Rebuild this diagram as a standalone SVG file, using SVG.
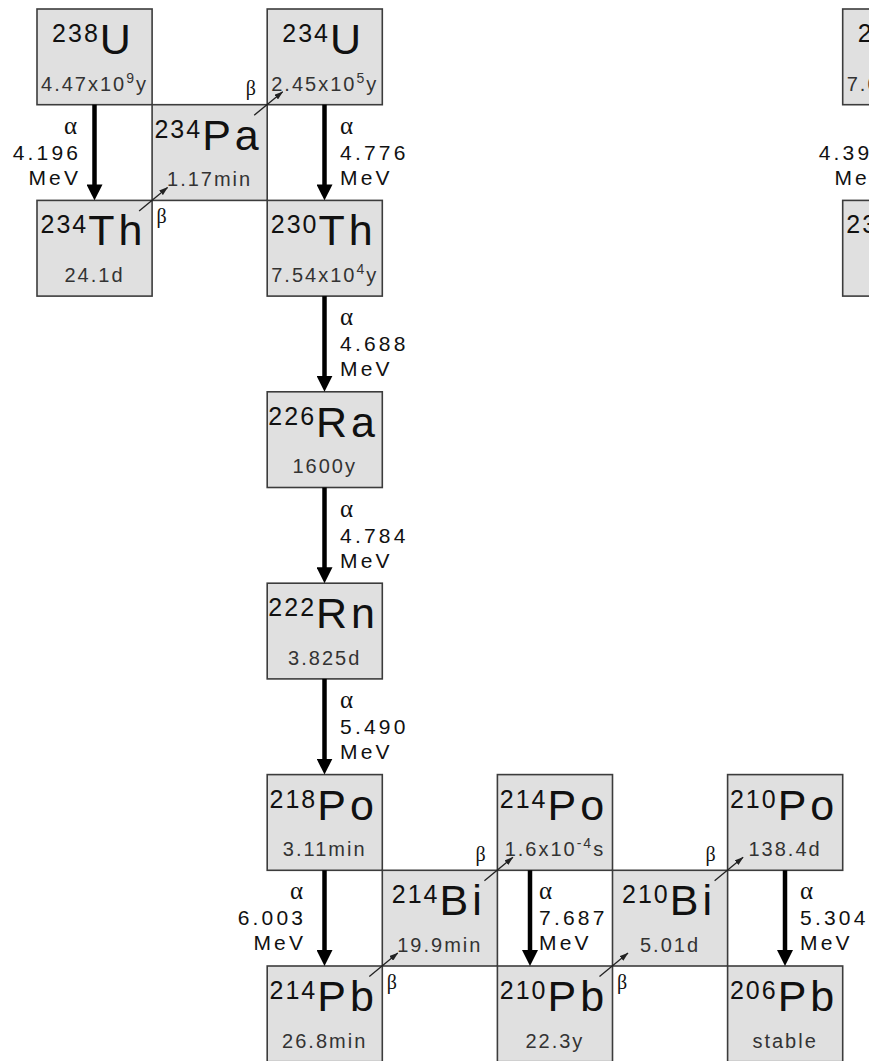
<svg xmlns="http://www.w3.org/2000/svg" width="869" height="1061" viewBox="0 0 869 1061">
<defs>
<style>
.box{fill:#e0e0e0;stroke:#3c3c3c;stroke-width:1.6}
.nuc{font-family:"Liberation Sans",Arial,sans-serif;fill:#111;text-anchor:middle}
.sup{font-size:25px;letter-spacing:2px}
.sym{font-size:43px;letter-spacing:4px}
.hl{font-family:"Liberation Sans",Arial,sans-serif;font-size:20px;letter-spacing:2px;fill:#333;text-anchor:middle}
.hls{font-size:14px}
.lbl{font-family:"Liberation Sans",Arial,sans-serif;font-size:21px;letter-spacing:3.2px;fill:#111}
.gr{font-family:"Liberation Serif","Times New Roman",serif;font-size:25px;fill:#111}
.gb{font-family:"Liberation Serif","Times New Roman",serif;font-size:20px;fill:#111}
.end{text-anchor:end}
.alpha{stroke:#000;stroke-width:4.5;fill:none;marker-end:url(#ah)}
.beta{stroke:#222;stroke-width:1.3;fill:none;marker-end:url(#bh)}
</style>
<marker id="ah" viewBox="0 0 16 16" refX="10" refY="8" markerWidth="16" markerHeight="16" markerUnits="userSpaceOnUse" orient="auto">
<path d="M0,0 L16,8 L0,16 Z" fill="#000"/>
</marker>
<marker id="bh" viewBox="0 0 9 6" refX="8.5" refY="3" markerWidth="9" markerHeight="6" markerUnits="userSpaceOnUse" orient="auto">
<path d="M0,0 L9,3 L0,6 Z" fill="#222"/>
</marker>
</defs>
<rect width="869" height="1061" fill="#fff"/>

<g id="U238">
<rect class="box" x="37" y="9" width="115.1" height="95.7"/>
<text class="nuc" x="93.5" y="54"><tspan class="sup" dy="-12">238</tspan><tspan class="sym" dy="12">U</tspan></text>
<text class="hl" x="94.5" y="90.5">4.47x10<tspan class="hls" dy="-8">9</tspan><tspan dy="8">y</tspan></text>
</g>
<g id="Th234">
<rect class="box" x="37" y="200.4" width="115.1" height="95.7"/>
<text class="nuc" x="93.5" y="245.4"><tspan class="sup" dy="-12">234</tspan><tspan class="sym" dy="12">Th</tspan></text>
<text class="hl" x="94.5" y="281.9">24.1d</text>
</g>
<g id="Pa234">
<rect class="box" x="152.1" y="104.7" width="115.1" height="95.7"/>
<text class="nuc" x="208.6" y="149.7"><tspan class="sup" dy="-12">234</tspan><tspan class="sym" dy="12">Pa</tspan></text>
<text class="hl" x="209.6" y="186.2">1.17min</text>
</g>
<g id="U234">
<rect class="box" x="267.2" y="9" width="115.1" height="95.7"/>
<text class="nuc" x="323.7" y="54"><tspan class="sup" dy="-12">234</tspan><tspan class="sym" dy="12">U</tspan></text>
<text class="hl" x="324.7" y="90.5">2.45x10<tspan class="hls" dy="-8">5</tspan><tspan dy="8">y</tspan></text>
</g>
<g id="Th230">
<rect class="box" x="267.2" y="200.4" width="115.1" height="95.7"/>
<text class="nuc" x="323.7" y="245.4"><tspan class="sup" dy="-12">230</tspan><tspan class="sym" dy="12">Th</tspan></text>
<text class="hl" x="324.7" y="281.9">7.54x10<tspan class="hls" dy="-8">4</tspan><tspan dy="8">y</tspan></text>
</g>
<g id="Ra226">
<rect class="box" x="267.2" y="391.8" width="115.1" height="95.7"/>
<text class="nuc" x="323.7" y="436.8"><tspan class="sup" dy="-12">226</tspan><tspan class="sym" dy="12">Ra</tspan></text>
<text class="hl" x="324.7" y="473.3">1600y</text>
</g>
<g id="Rn222">
<rect class="box" x="267.2" y="583.2" width="115.1" height="95.7"/>
<text class="nuc" x="323.7" y="628.2"><tspan class="sup" dy="-12">222</tspan><tspan class="sym" dy="12">Rn</tspan></text>
<text class="hl" x="324.7" y="664.7">3.825d</text>
</g>
<g id="Po218">
<rect class="box" x="267.2" y="774.6" width="115.1" height="95.7"/>
<text class="nuc" x="323.7" y="819.6"><tspan class="sup" dy="-12">218</tspan><tspan class="sym" dy="12">Po</tspan></text>
<text class="hl" x="324.7" y="856.1">3.11min</text>
</g>
<g id="Bi214">
<rect class="box" x="382.3" y="870.3" width="115.1" height="95.7"/>
<text class="nuc" x="438.8" y="915.3"><tspan class="sup" dy="-12">214</tspan><tspan class="sym" dy="12">Bi</tspan></text>
<text class="hl" x="439.8" y="951.8">19.9min</text>
</g>
<g id="Po214">
<rect class="box" x="497.4" y="774.6" width="115.1" height="95.7"/>
<text class="nuc" x="553.9" y="819.6"><tspan class="sup" dy="-12">214</tspan><tspan class="sym" dy="12">Po</tspan></text>
<text class="hl" x="554.9" y="856.1">1.6x10<tspan class="hls" dy="-8">-4</tspan><tspan dy="8">s</tspan></text>
</g>
<g id="Bi210">
<rect class="box" x="612.5" y="870.3" width="115.1" height="95.7"/>
<text class="nuc" x="669" y="915.3"><tspan class="sup" dy="-12">210</tspan><tspan class="sym" dy="12">Bi</tspan></text>
<text class="hl" x="670" y="951.8">5.01d</text>
</g>
<g id="Po210">
<rect class="box" x="727.6" y="774.6" width="115.1" height="95.7"/>
<text class="nuc" x="784.1" y="819.6"><tspan class="sup" dy="-12">210</tspan><tspan class="sym" dy="12">Po</tspan></text>
<text class="hl" x="785.1" y="856.1">138.4d</text>
</g>
<g id="Pb214">
<rect class="box" x="267.2" y="966" width="115.1" height="95.7"/>
<text class="nuc" x="323.7" y="1011"><tspan class="sup" dy="-12">214</tspan><tspan class="sym" dy="12">Pb</tspan></text>
<text class="hl" x="324.7" y="1047.5">26.8min</text>
</g>
<g id="Pb210">
<rect class="box" x="497.4" y="966" width="115.1" height="95.7"/>
<text class="nuc" x="553.9" y="1011"><tspan class="sup" dy="-12">210</tspan><tspan class="sym" dy="12">Pb</tspan></text>
<text class="hl" x="554.9" y="1047.5">22.3y</text>
</g>
<g id="Pb206">
<rect class="box" x="727.6" y="966" width="115.1" height="95.7"/>
<text class="nuc" x="784.1" y="1011"><tspan class="sup" dy="-12">206</tspan><tspan class="sym" dy="12">Pb</tspan></text>
<text class="hl" x="785.1" y="1047.5">stable</text>
</g>
<g id="U235">
<rect class="box" x="842.7" y="9" width="115.1" height="95.7"/>
<text class="nuc" x="899.2" y="54"><tspan class="sup" dy="-12">235</tspan><tspan class="sym" dy="12">U</tspan></text>
<text class="hl" x="900.2" y="90.5">7.04x10<tspan class="hls" dy="-8">8</tspan><tspan dy="8">y</tspan></text>
</g>
<g id="Th231">
<rect class="box" x="842.7" y="200.4" width="115.1" height="95.7"/>
<text class="nuc" x="899.2" y="245.4"><tspan class="sup" dy="-12">231</tspan><tspan class="sym" dy="12">Th</tspan></text>
</g>

<g id="connectors">
<line class="alpha" x1="94.5" y1="104.7" x2="94.5" y2="194.4"/>
<line class="alpha" x1="324.5" y1="104.7" x2="324.5" y2="194.4"/>
<line class="alpha" x1="324.5" y1="296.1" x2="324.5" y2="385.8"/>
<line class="alpha" x1="324.5" y1="487.5" x2="324.5" y2="577.2"/>
<line class="alpha" x1="324.5" y1="678.9" x2="324.5" y2="768.6"/>
<line class="alpha" x1="324.5" y1="870.3" x2="324.5" y2="960"/>
<line class="alpha" x1="530" y1="870.3" x2="530" y2="960"/>
<line class="alpha" x1="785" y1="870.3" x2="785" y2="960"/>

<line class="beta" x1="139.1" y1="210.9" x2="167.6" y2="187.4"/>
<line class="beta" x1="254.2" y1="115.2" x2="282.7" y2="91.7"/>
<line class="beta" x1="369.3" y1="976.5" x2="397.8" y2="953"/>
<line class="beta" x1="484.4" y1="880.8" x2="512.9" y2="857.3"/>
<line class="beta" x1="599.5" y1="976.5" x2="628" y2="953"/>
<line class="beta" x1="714.6" y1="880.8" x2="743.1" y2="857.3"/>
</g>

<g id="labels">
<text class="gr end" x="77" y="134">α</text>
<text class="lbl end" x="81.2" y="160">4.196</text>
<text class="lbl end" x="81.2" y="185">MeV</text>

<text class="gr" x="340" y="134">α</text>
<text class="lbl" x="340" y="160">4.776</text>
<text class="lbl" x="340" y="185">MeV</text>

<text class="gr" x="340" y="325">α</text>
<text class="lbl" x="340" y="351">4.688</text>
<text class="lbl" x="340" y="376">MeV</text>

<text class="gr" x="340" y="516.5">α</text>
<text class="lbl" x="340" y="542.5">4.784</text>
<text class="lbl" x="340" y="567.5">MeV</text>

<text class="gr" x="340" y="708">α</text>
<text class="lbl" x="340" y="734">5.490</text>
<text class="lbl" x="340" y="759">MeV</text>

<text class="gr end" x="303" y="899.3">α</text>
<text class="lbl end" x="306.2" y="925.3">6.003</text>
<text class="lbl end" x="306.2" y="950.3">MeV</text>

<text class="gr" x="539" y="899.3">α</text>
<text class="lbl" x="539" y="925.3">7.687</text>
<text class="lbl" x="539" y="950.3">MeV</text>

<text class="gr" x="800" y="899.3">α</text>
<text class="lbl" x="800" y="925.3">5.304</text>
<text class="lbl" x="800" y="950.3">MeV</text>

<text class="lbl end" x="887.2" y="160">4.398</text>
<text class="lbl end" x="887.2" y="185">MeV</text>

<text class="gb" x="156.6" y="223.4">β</text>
<text class="gb" x="245.7" y="95">β</text>
<text class="gb" x="386.8" y="989">β</text>
<text class="gb" x="475.4" y="860.5">β</text>
<text class="gb" x="617" y="989">β</text>
<text class="gb" x="705.6" y="860.5">β</text>
</g>
</svg>
